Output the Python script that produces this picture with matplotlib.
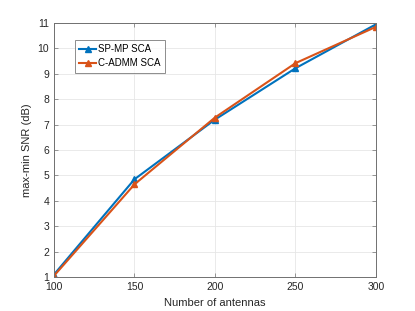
import matplotlib
matplotlib.use("Agg")
import matplotlib.pyplot as plt

plt.rcParams['font.family'] = ['Liberation Sans', 'DejaVu Sans']

antennas = [100, 150, 200, 250, 300]
sp_mp_sca = [1.1, 4.85, 7.2, 9.22, 10.95]
c_admm_sca = [1.05, 4.65, 7.28, 9.42, 10.85]
xticks = [100, 150, 200, 250, 300]
yticks = list(range(1, 12))

fig = plt.figure(figsize=(4.15, 3.11), dpi=100)
ax = fig.add_axes([0.130, 0.109, 0.776, 0.817])
ax.plot(antennas, sp_mp_sca, '-^', color='#0072BD', lw=1.5, ms=4.5, label='SP-MP SCA')
ax.plot(antennas, c_admm_sca, '-^', color='#D95319', lw=1.5, ms=4.5, label='C-ADMM SCA')
ax.set_xlim(100, 300)
ax.set_ylim(1, 11)
ax.set_xticks(xticks)
ax.set_yticks(yticks)
ax.grid(True, color='#e6e6e6', lw=0.6)
ax.set_axisbelow(True)
for s in ax.spines.values():
    s.set_color('#707070')
    s.set_linewidth(0.7)
ax.tick_params(labelsize=7.5, direction='in', length=3, width=0.5, colors='#707070',
               labelcolor='#262626', top=True, right=True)
ax.set_xlabel('Number of antennas', fontsize=8, color='#262626')
ax.set_ylabel('max-min SNR (dB)', fontsize=8, color='#262626')
leg = ax.legend(loc='upper left', bbox_to_anchor=(0.065, 0.935), fontsize=7, frameon=True, fancybox=False,
                edgecolor='#707070', handlelength=1.7, borderpad=0.45, labelspacing=0.45,
                handletextpad=0.2, borderaxespad=0.0)
leg.get_frame().set_linewidth(0.7)
fig.savefig('out.png', dpi=100)
